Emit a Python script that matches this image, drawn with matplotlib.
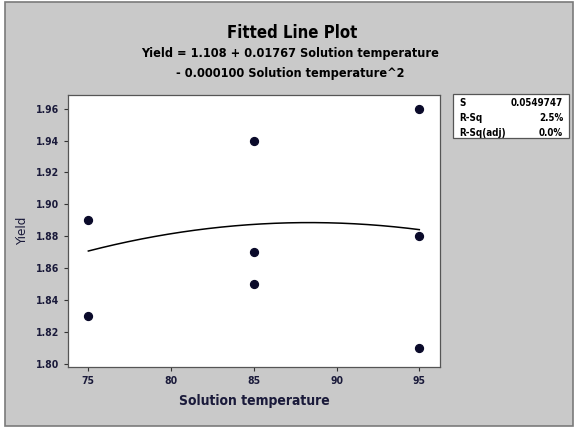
import numpy as np
import matplotlib
matplotlib.use("Agg")
import matplotlib.pyplot as plt
from matplotlib.patches import Rectangle

# Data
temp_x = [75, 75, 85, 85, 85, 95, 95, 95]
yield_y = [1.89, 1.83, 1.94, 1.87, 1.85, 1.96, 1.88, 1.81]
coef = [1.108, 0.01767, -0.000100]  # intercept, linear, quadratic
xticks = [75, 80, 85, 90, 95]
yticks = [1.80, 1.82, 1.84, 1.86, 1.88, 1.90, 1.92, 1.94, 1.96]
stats_labels = ["S", "R-Sq", "R-Sq(adj)"]
stats_values = ["0.0549747", "2.5%", "0.0%"]

W, H = 576, 428
fam = ["DejaVu Sans"]
st = "condensed"
bg = "#C9C9C9"
tcol = "#1a1a3a"

fig = plt.figure(figsize=(W / 100, H / 100), dpi=100, facecolor="white")
fig.patches.append(Rectangle((5 / W, 2 / H), 568 / W, 424 / H, transform=fig.transFigure,
                             facecolor=bg, edgecolor="#7a7a7a", linewidth=1.2, zorder=-10))

ax = fig.add_axes([68 / W, 1 - 367 / H, (440 - 68) / W, (367 - 95) / H])
ax.set_facecolor("white")
ax.scatter(temp_x, yield_y, s=32, color="#0a0a2a", zorder=3)
xs = np.linspace(75, 95, 200)
ys = np.polyval(coef[::-1], xs)
ax.plot(xs, ys, color="black", linewidth=1.1)

ax.set_xlim(73.77, 96.25)
ax.set_ylim(1.798, 1.9686)
ax.set_xticks(xticks)
ax.set_xticklabels([str(v) for v in xticks])
ax.set_yticks(yticks)
ax.set_yticklabels([f"{v:.2f}" for v in yticks])
ax.tick_params(direction="out", length=3, width=0.8, colors="#333333", labelcolor=tcol,
               labelsize=7.5)
for lab in ax.get_xticklabels() + ax.get_yticklabels():
    lab.set_family(fam)
    lab.set_fontweight("bold")
    lab.set_fontstretch(st)
for s in ax.spines.values():
    s.set_color("#555555")
    s.set_linewidth(0.9)

ax.set_xlabel("Solution temperature", fontsize=10, fontweight="bold", family=fam,
              fontstretch=st, color=tcol, labelpad=6)
ax.set_ylabel("Yield", fontsize=9.5, family=fam, fontstretch=st, color=tcol, labelpad=5)

fig.text(292 / W, 1 - 33 / H, "Fitted Line Plot", ha="center", va="center",
         fontsize=12, fontweight="bold", family=fam, fontstretch=st, color="black")
fig.text(290 / W, 1 - 53 / H, "Yield = 1.108 + 0.01767 Solution temperature",
         ha="center", va="center", fontsize=9.1, fontweight="bold", family=fam,
         fontstretch=st, color="black")
fig.text(290 / W, 1 - 73 / H, "- 0.000100 Solution temperature^2",
         ha="center", va="center", fontsize=9.1, fontweight="bold", family=fam,
         fontstretch=st, color="black")

# stats box
fig.patches.append(Rectangle((453 / W, 1 - 138 / H), (569 - 453) / W, (138 - 94) / H,
                             transform=fig.transFigure, facecolor="white",
                             edgecolor="#555555", linewidth=0.9, zorder=-5))
for i, (l, v) in enumerate(zip(stats_labels, stats_values)):
    yy = 1 - (103 + i * 15) / H
    fig.text(459 / W, yy, l, ha="left", va="center", fontsize=7, fontweight="bold",
             family=fam, fontstretch=st, color="black")
    fig.text(563 / W, yy, v, ha="right", va="center", fontsize=7, fontweight="bold",
             family=fam, fontstretch=st, color="black")

fig.savefig("out.png", dpi=100, facecolor="white")
